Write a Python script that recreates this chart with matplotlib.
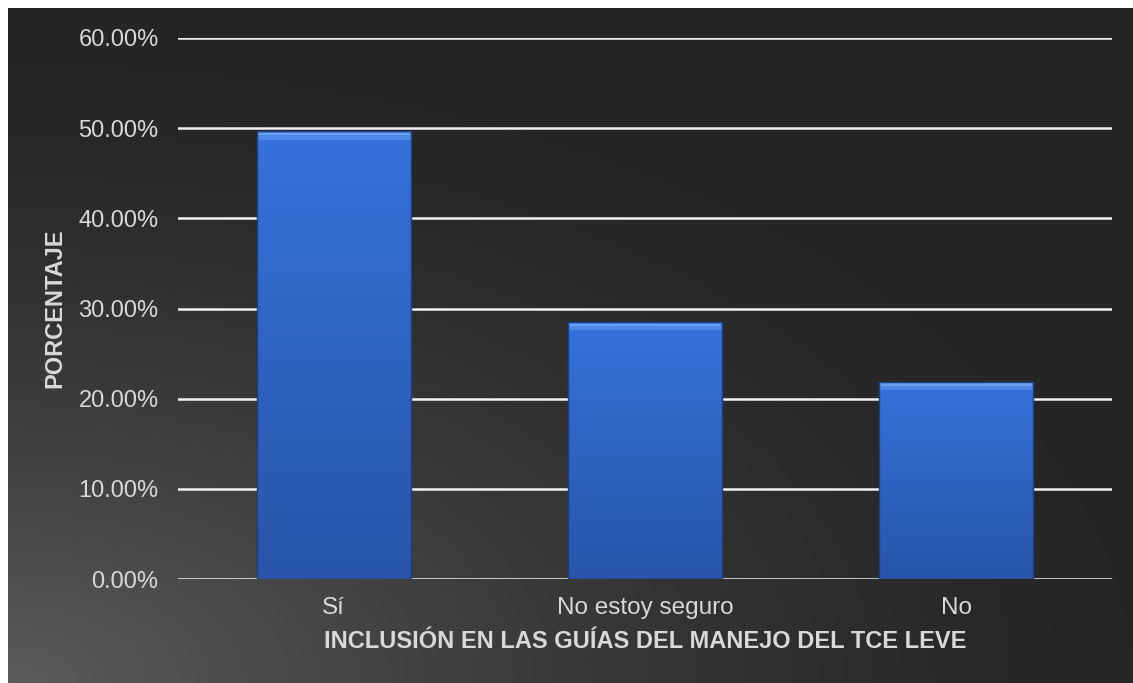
import numpy as np
import matplotlib
matplotlib.use("Agg")
import matplotlib.pyplot as plt
from matplotlib.patches import Rectangle

# Survey answers and their share of respondents (%)
categories = ["Sí", "No estoy seguro", "No"]
percentages = [49.64, 28.47, 21.90]
y_ticks = [0, 10, 20, 30, 40, 50, 60]

plt.rcParams["font.family"] = ["Liberation Sans", "DejaVu Sans"]
text_color = "#d9d9d9"

W, H = 1133, 683
fig = plt.figure(figsize=(W / 100, H / 100), dpi=100)
fig.patch.set_facecolor("white")

# dark panel with a soft light glow from the lower-left corner
bg = fig.add_axes([8 / W, 0, 1 - 8 / W, 1 - 8 / H])
bg.set_axis_off()
h, w = 340, 560
yy, xx = np.mgrid[0:h, 0:w]
dist = np.sqrt((xx / w) ** 2 * 1.0 + ((h - 1 - yy) / h) ** 2 * 1.2)
glow = np.clip(1 - dist / 1.0, 0, 1) ** 1.5
shade = 0.149 + (0.36 - 0.149) * glow
bg.imshow(np.dstack([shade] * 3), aspect="auto", extent=[0, 1, 0, 1], origin="upper")
bg.set_xlim(0, 1)
bg.set_ylim(0, 1)

ax = fig.add_axes([178 / W, 1 - 579 / H, (1112 - 178) / W, (579 - 38) / H])
ax.set_facecolor("none")
x = np.arange(len(categories))

for t in y_ticks:
    ax.axhline(t, color="#f2f2f2", lw=1.8, zorder=1)

bars = ax.bar(x, percentages, width=0.495, color="#3370d8",
              edgecolor="#1d3f80", linewidth=0.8, zorder=2)

# vertical blue gradient inside each bar plus a bright bevel on top
grad = np.linspace(0, 1, 256).reshape(-1, 1)
top_c = np.array([0x35, 0x72, 0xdc]) / 255
bot_c = np.array([0x28, 0x55, 0xa8]) / 255
cols = top_c * (1 - grad[..., None]) + bot_c * grad[..., None]
cols = np.repeat(cols, 2, axis=1)
for b in bars:
    x0, w_, hgt = b.get_x(), b.get_width(), b.get_height()
    im = ax.imshow(cols, extent=[x0, x0 + w_, 0, hgt], aspect="auto",
                   origin="upper", zorder=2.1)
    im.set_clip_path(b)
    ax.add_patch(Rectangle((x0, hgt - 0.9), w_, 0.9,
                           color="#4d87e8", lw=0, zorder=2.2))
    ax.add_patch(Rectangle((x0 + 0.005, hgt - 0.45), w_ - 0.01, 0.3,
                           color="#6a9ff0", lw=0, zorder=2.25))
    ax.add_patch(Rectangle((x0, 0), w_, hgt, fill=False,
                           edgecolor="#1d3f80", lw=1.0, zorder=2.3))
ax.set_xlim(-0.5, len(categories) - 0.5)
ax.set_ylim(0, 60)

ax.set_yticks(y_ticks)
ax.set_yticklabels([f"{t:.2f}%" for t in y_ticks])
ax.set_xticks(x)
ax.set_xticklabels(categories)
ax.tick_params(axis="both", length=0, colors=text_color)
ax.tick_params(axis="y", pad=14, labelsize=17)
ax.tick_params(axis="x", pad=13, labelsize=17.5)
for s in ax.spines.values():
    s.set_visible(False)

fig.text(55 / W, 1 - 308 / H, "PORCENTAJE", color=text_color, fontsize=17,
         fontweight="bold", rotation=90, ha="center", va="center")
fig.text(645 / W, 1 - 642 / H, "INCLUSIÓN EN LAS GUÍAS DEL MANEJO DEL TCE LEVE",
         color=text_color, fontsize=17, fontweight="bold", ha="center", va="center")

fig.savefig("out.png", dpi=100)
